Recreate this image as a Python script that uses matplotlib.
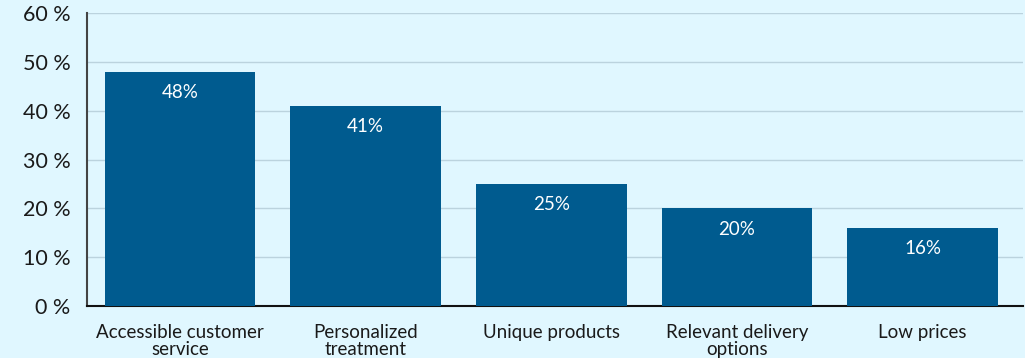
import matplotlib
matplotlib.use("Agg")
from matplotlib import pyplot as plt

# data
categories = ["Accessible customer\nservice", "Personalized\ntreatment", "Unique products",
              "Relevant delivery\noptions", "Low prices"]
values = [48, 41, 25, 20, 16]
yticks = [0, 10, 20, 30, 40, 50, 60]
ytick_labels = ["0 %", "10 %", "20 %", "30 %", "40 %", "50 %", "60 %"]

bg = "#E0F7FF"
bar_color = "#005B8F"

plt.rcParams['font.family'] = ['Lato', 'DejaVu Sans']

fig = plt.figure(figsize=(10.25, 3.58), dpi=100, facecolor=bg)
ax = fig.add_axes([87/1025, 1 - 306/358, (1023 - 87)/1025, (306 - 13)/358])
ax.set_facecolor(bg)

x = range(len(categories))
bars = ax.bar(x, values, width=0.81, color=bar_color, zorder=3)
for b, v in zip(bars, values):
    ax.text(b.get_x() + b.get_width()/2, v - 2.5, f"{v}%", ha='center', va='top',
            color='white', fontsize=13.5, zorder=4)

ax.set_xlim(-0.5, 4.54)
ax.set_ylim(0, 60)
ax.set_yticks(yticks)
ax.set_yticklabels(ytick_labels, fontsize=15.5, color='#1a1a1a')
ax.set_xticks(list(x))
ax.set_xticklabels(categories, fontsize=13.5, color='#1a1a1a', linespacing=1.0)
ax.tick_params(axis='both', length=0)
ax.tick_params(axis='y', pad=12)
ax.tick_params(axis='x', pad=13)
ax.grid(axis='y', color='#BBD3DE', linewidth=1, zorder=0)

for s in ['top', 'right']:
    ax.spines[s].set_visible(False)
ax.spines['left'].set_color('#444444')
ax.spines['left'].set_linewidth(1.5)
ax.spines['bottom'].set_color('#111111')
ax.spines['bottom'].set_linewidth(1.5)

fig.savefig("out.png", dpi=100, facecolor=bg)
